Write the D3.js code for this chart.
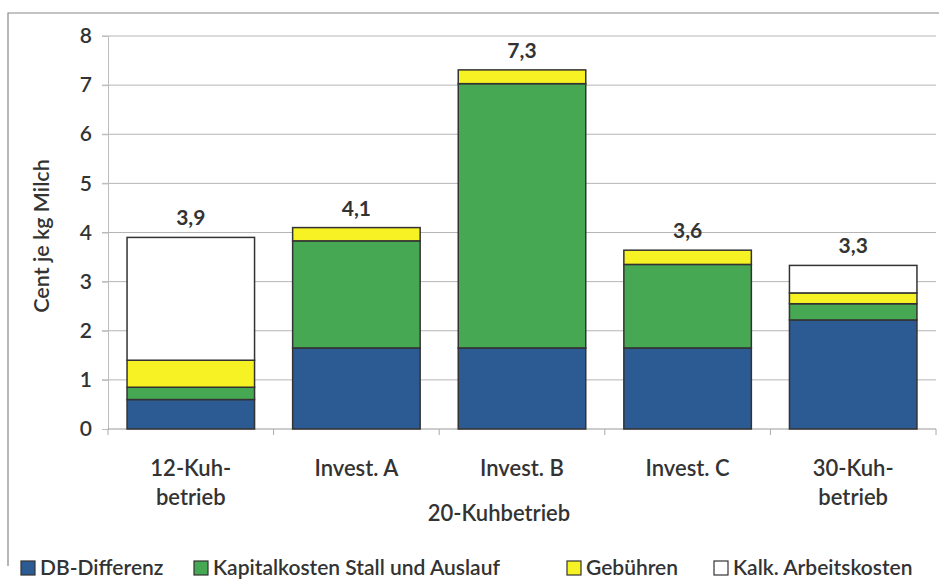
<!DOCTYPE html>
<html lang="de">
<head>
<meta charset="UTF-8">
<title>Cent je kg Milch</title>
<script src="https://cdn.jsdelivr.net/npm/d3@7"></script>
<style>
body { margin: 0; background: #fff; }
text { font-family: Lato, "Open Sans", sans-serif; fill: #333; }
</style>
</head>
<body>
<script>
// data
var categories = ["12-Kuh-betrieb", "Invest. A", "Invest. B", "Invest. C", "30-Kuh-betrieb"];
var dbDifferenz = [0.6, 1.65, 1.65, 1.65, 2.22];
var kapitalkosten = [0.25, 2.18, 5.38, 1.7, 0.33];
var gebuehren = [0.55, 0.27, 0.28, 0.29, 0.22];
var arbeitskosten = [2.5, 0, 0, 0, 0.56];
var totalLabels = ["3,9", "4,1", "7,3", "3,6", "3,3"];
var yTicks = [0, 1, 2, 3, 4, 5, 6, 7, 8];
var seriesNames = ["DB-Differenz", "Kapitalkosten Stall und Auslauf", "Gebühren", "Kalk. Arbeitskosten"];
var seriesColors = ["#2c5a93", "#47a853", "#f7f224", "#ffffff"];

var W = 939, H = 580;
var margin = {left: 108, right: 3, top: 36, bottom: 151};

var svg = d3.select("body").append("svg")
    .attr("width", W)
    .attr("height", H);

// outer frame
svg.append("path")
    .attr("d", "M8,566 V13 H939")
    .attr("fill", "none")
    .attr("stroke", "#888")
    .attr("stroke-width", 1.2);

var x = d3.scaleBand()
    .domain(categories)
    .range([margin.left, W - margin.right])
    .paddingInner(0.23)
    .paddingOuter(0.115);

var y = d3.scaleLinear()
    .domain([0, 8])
    .range([H - margin.bottom, margin.top]);

// grid
svg.append("g").selectAll("line")
    .data(yTicks.filter(function(d){ return d > 0; }))
    .enter().append("line")
    .attr("x1", margin.left - 6)
    .attr("x2", W - margin.right)
    .attr("y1", function(d){ return y(d); })
    .attr("y2", function(d){ return y(d); })
    .attr("stroke", "#b5b5b5")
    .attr("stroke-width", 1);

// y axis
var yAxis = svg.append("g")
    .attr("transform", "translate(" + margin.left + ",0)")
    .call(d3.axisLeft(y).tickValues(yTicks).tickSize(6).tickPadding(10));
yAxis.select(".domain").attr("stroke", "#bdbdbd");
yAxis.selectAll(".tick line").attr("stroke", "#bdbdbd");
yAxis.selectAll(".tick text")
    .style("font-size", "21px")
    .style("font-weight", "600")
    .attr("fill", "#333");

// x axis with ticks between categories
var bounds = categories.map(function(c){ return x(c) - x.step() * x.paddingInner() / 2; });
bounds.push(W - margin.right);
svg.append("line")
    .attr("x1", margin.left).attr("x2", W - margin.right)
    .attr("y1", y(0)).attr("y2", y(0))
    .attr("stroke", "#999");
svg.append("g").selectAll("line")
    .data(bounds)
    .enter().append("line")
    .attr("x1", function(d){ return d; })
    .attr("x2", function(d){ return d; })
    .attr("y1", y(0))
    .attr("y2", y(0) + 6)
    .attr("stroke", "#aaa");

// stacked bars
var table = categories.map(function(c, i){
    return {cat: c, s0: dbDifferenz[i], s1: kapitalkosten[i], s2: gebuehren[i], s3: arbeitskosten[i]};
});
var stack = d3.stack().keys(["s0", "s1", "s2", "s3"])(table);

svg.append("g").selectAll("g")
    .data(stack)
    .enter().append("g")
    .attr("fill", function(d, i){ return seriesColors[i]; })
    .selectAll("rect")
    .data(function(d){ return d.filter(function(p){ return p[1] - p[0] > 0; }); })
    .enter().append("rect")
    .attr("x", function(d){ return x(d.data.cat); })
    .attr("width", x.bandwidth())
    .attr("y", function(d){ return y(d[1]); })
    .attr("height", function(d){ return y(d[0]) - y(d[1]); })
    .attr("stroke", "#333")
    .attr("stroke-width", 1.5);

// totals
svg.append("g").selectAll("text")
    .data(table)
    .enter().append("text")
    .attr("x", function(d){ return x(d.cat) + x.bandwidth() / 2; })
    .attr("y", function(d){ return y(d.s0 + d.s1 + d.s2 + d.s3) - 12; })
    .attr("text-anchor", "middle")
    .style("font-size", "21px")
    .style("font-weight", "bold")
    .text(function(d, i){ return totalLabels[i]; });

// category labels
var catLabels = svg.append("g").selectAll("text")
    .data(categories)
    .enter().append("text")
    .attr("x", function(d){ return x(d) + x.bandwidth() / 2; })
    .attr("y", 476)
    .attr("text-anchor", "middle")
    .style("font-size", "22px")
    .style("font-weight", "600")
    .attr("fill", "#444");
catLabels.each(function(d){
    var parts = d.indexOf("Kuh-") >= 0 ? [d.split("-betrieb")[0] + "-", "betrieb"] : [d];
    var t = d3.select(this);
    parts.forEach(function(p, k){
        t.append("tspan")
            .attr("x", t.attr("x"))
            .attr("dy", k === 0 ? 0 : 29)
            .text(p);
    });
});

svg.append("text")
    .attr("x", x("Invest. B") + x.bandwidth() / 2 - 23)
    .attr("y", 521)
    .attr("text-anchor", "middle")
    .style("font-size", "22px")
    .style("font-weight", "600")
    .attr("fill", "#444")
    .text("20-Kuhbetrieb");

// y title
svg.append("text")
    .attr("transform", "translate(49,236) rotate(-90)")
    .attr("text-anchor", "middle")
    .style("font-size", "21.5px")
    .style("font-weight", "600")
    .attr("fill", "#444")
    .text("Cent je kg Milch");

// legend
var legendX = [21, 194, 567, 714];
var legend = svg.append("g").selectAll("g")
    .data(seriesNames)
    .enter().append("g")
    .attr("transform", function(d, i){ return "translate(" + legendX[i] + ",561)"; });
legend.append("rect")
    .attr("width", 14).attr("height", 14)
    .attr("fill", function(d, i){ return seriesColors[i]; })
    .attr("stroke", "#333")
    .attr("stroke-width", 1.2);
legend.append("text")
    .attr("x", 19)
    .attr("y", 14)
    .style("font-size", "21px")
    .style("font-weight", "600")
    .attr("fill", "#333")
    .text(function(d){ return d; });
</script>
</body>
</html>
